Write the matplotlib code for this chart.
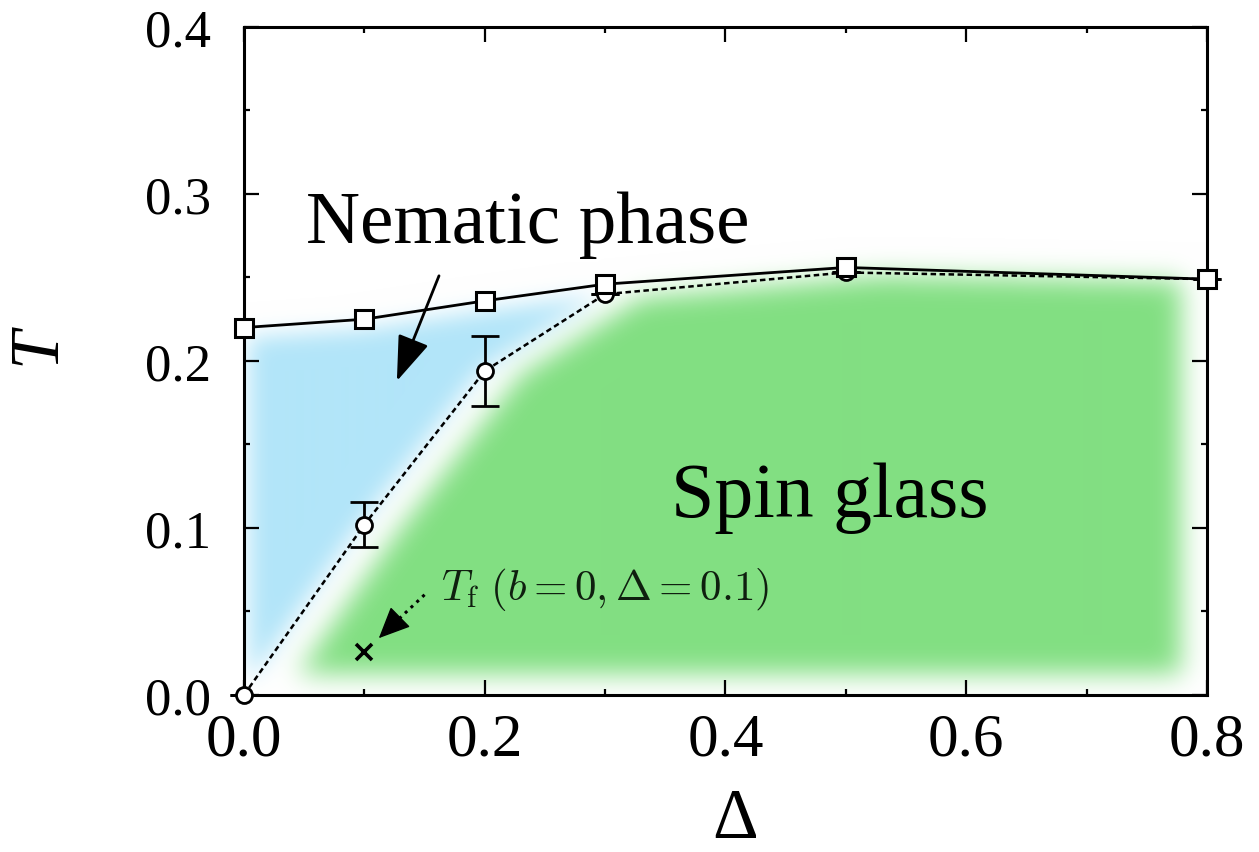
import numpy as np
import matplotlib
matplotlib.use("Agg")
import matplotlib.pyplot as plt
from matplotlib.patches import FancyArrowPatch

# Phase boundaries vs. Delta
delta = [0.0, 0.1, 0.2, 0.3, 0.5, 0.8]
t_nematic = [0.220, 0.225, 0.236, 0.246, 0.256, 0.249]      # squares, solid line
t_glass = [0.0, 0.102, 0.194, 0.240, 0.253, 0.249]          # circles, dashed line
t_glass_err = [0.0, 0.0135, 0.021, 0.0, 0.0, 0.0]
tf_delta = [0.1]
tf_value = [0.026]

x_ticks = [0.0, 0.2, 0.4, 0.6, 0.8]
x_ticklabels = ["0.0", "0.2", "0.4", "0.6", "0.8"]
y_ticks = [0.0, 0.1, 0.2, 0.3, 0.4]
y_ticklabels = ["0.0", "0.1", "0.2", "0.3", "0.4"]

plt.rcParams["mathtext.fontset"] = "cm"
serif = "Liberation Serif"

fig = plt.figure(figsize=(12.59, 8.53), dpi=100)
ax = fig.add_axes([0.1938, 0.1841, 0.7649, 0.7831])
ax.set_xlim(0, 0.8)
ax.set_ylim(0, 0.4)


def blur(a, s):
    r = int(3 * s)
    k = np.exp(-0.5 * (np.arange(-r, r + 1) / s) ** 2)
    k /= k.sum()
    a = np.apply_along_axis(lambda v: np.convolve(v, k, mode="same"), 0, a)
    a = np.apply_along_axis(lambda v: np.convolve(v, k, mode="same"), 1, a)
    return a


# soft shaded phase regions
nx, ny = 963, 668
xs = np.linspace(0, 0.8, nx)
ts = np.linspace(0, 0.4, ny)
X, T = np.meshgrid(xs, ts)
upper = np.interp(X, delta, t_nematic)
lower_left = np.interp(X + 0.004, delta, t_glass)
lower_right = np.interp(X - 0.03, delta, t_glass)

blue_mask = ((T < upper - 0.006) & (T > lower_left) & (X > 0.004) & (T > 0.004)).astype(float)
green_mask = ((T < lower_right - 0.002) & (T > 0.012) & (X < 0.778)).astype(float)
bb = np.clip(blur(blue_mask, 11), 0, 1)
gb = np.clip(blur(green_mask, 13), 0, 1)

blue = np.array([178, 229, 249]) / 255
green = np.array([130, 223, 130]) / 255
img = 1 - bb[..., None] * (1 - blue) - gb[..., None] * (1 - green)
ax.imshow(np.clip(img, 0, 1), origin="lower", extent=[0, 0.8, 0, 0.4],
          aspect="auto", interpolation="bilinear", zorder=0)

# boundaries
ax.plot(delta, t_nematic, color="black", lw=2.0, zorder=3,
        marker="s", ms=13, mfc="white", mec="black", mew=2.2, clip_on=False)
ax.plot(delta, t_glass, color="black", lw=1.8, ls=(0, (2.2, 1.4)), zorder=2)
ax.errorbar(delta, t_glass, yerr=t_glass_err, fmt="o", ms=11.5, mfc="white",
            mec="black", mew=2.0, ecolor="black", elinewidth=2.0, capsize=10,
            capthick=2.0, zorder=2.5, clip_on=False)
ax.plot(tf_delta, tf_value, marker="x", ls="none", color="black", ms=11, mew=2.6, zorder=3)

# labels inside the plot
ax.text(0.236, 0.2713, "Nematic phase", family=serif, fontsize=54,
        ha="center", va="baseline", zorder=4)
ax.text(0.487, 0.107, "Spin glass", family=serif, fontsize=56,
        ha="center", va="baseline", zorder=4)
ax.text(0.164, 0.0575, r"$T_{\rm f}\ (b=0,\Delta=0.1)$", fontsize=31,
        color="#0f1f0f", ha="left", va="baseline", zorder=4)

ax.add_patch(FancyArrowPatch((0.162, 0.251), (0.127, 0.188),
                             arrowstyle="-|>,head_length=1.4,head_width=0.5",
                             mutation_scale=20, color="black", lw=2.0,
                             shrinkA=0, shrinkB=0, zorder=4))
# dotted shaft and solid head for the T_f pointer
ax.plot([0.150, 0.122], [0.060, 0.041], color="black", lw=2.2, ls=(0, (1, 1.6)), zorder=4)
ax.add_patch(FancyArrowPatch((0.124, 0.0425), (0.112, 0.034),
                             arrowstyle="-|>,head_length=1.0,head_width=0.45",
                             mutation_scale=20, color="black", lw=1.0,
                             shrinkA=0, shrinkB=0, zorder=4))

# axes styling
ax.set_xticks(x_ticks)
ax.set_xticklabels(x_ticklabels, family=serif, fontsize=44)
ax.set_yticks(y_ticks)
ax.set_yticklabels(y_ticklabels, family=serif, fontsize=38)
ax.set_xticks(np.arange(0.1, 0.8, 0.2), minor=True)
ax.set_yticks(np.arange(0.05, 0.4, 0.1), minor=True)
ax.tick_params(which="major", direction="in", top=True, right=True,
               length=11, width=1.6)
ax.tick_params(which="minor", direction="in", top=True, right=True,
               length=4, width=1.6)
ax.tick_params(axis="x", pad=12)
ax.tick_params(axis="y", pad=24)
for sp in ax.spines.values():
    sp.set_linewidth(2.2)

ax.set_xlabel("Δ", family=serif, fontsize=51, va="center")
ax.xaxis.set_label_coords(0.51, -0.186)
ax.set_ylabel("T", family=serif, style="italic", fontsize=50, va="center")
ax.yaxis.set_label_coords(-0.214, 0.525)

fig.savefig("out.png", dpi=100)
